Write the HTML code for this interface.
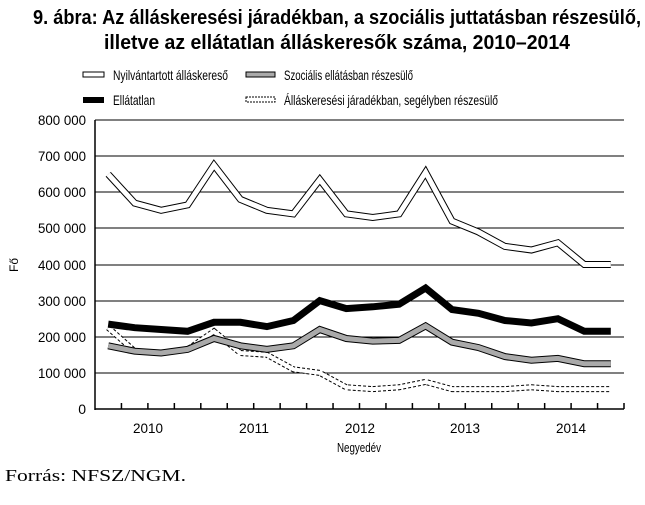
<!DOCTYPE html>
<html><head><meta charset="utf-8"><style>
html,body{margin:0;padding:0;background:#fff;}
body{width:645px;height:500px;overflow:hidden;}
text{font-family:"Liberation Sans Narrow","Liberation Sans",sans-serif;}
</style></head><body>
<svg width="645" height="500" xmlns="http://www.w3.org/2000/svg">
<text x="337" y="24" text-anchor="middle" font-size="20" font-weight="bold" textLength="608" lengthAdjust="spacingAndGlyphs">9. ábra: Az álláskeresési járadékban, a szociális juttatásban részesülő,</text>
<text x="337" y="49" text-anchor="middle" font-size="20" font-weight="bold" textLength="466" lengthAdjust="spacingAndGlyphs">illetve az ellátatlan álláskeresők száma, 2010–2014</text>
<!-- legend -->
<rect x="83" y="72" width="21" height="5" fill="#fff" stroke="#000" stroke-width="1"/>
<text x="113" y="80" font-size="14" textLength="115" lengthAdjust="spacingAndGlyphs">Nyilvántartott álláskereső</text>
<rect x="246" y="72" width="29" height="5" fill="#aaa" stroke="#000" stroke-width="1"/>
<text x="284" y="80" font-size="14" textLength="129" lengthAdjust="spacingAndGlyphs">Szociális ellátásban részesülő</text>
<rect x="83" y="97" width="21" height="6" fill="#000"/>
<text x="113" y="105" font-size="14" textLength="42" lengthAdjust="spacingAndGlyphs">Ellátatlan</text>
<rect x="246" y="97" width="29" height="5" fill="#fff" stroke="#000" stroke-width="1" stroke-dasharray="2,1"/>
<text x="284" y="105" font-size="14" textLength="214" lengthAdjust="spacingAndGlyphs">Álláskeresési járadékban, segélyben részesülő</text>
<!-- grid -->
<g stroke="#000" stroke-width="1">
<line x1="95" x2="624" y1="120" y2="120"/><line x1="95" x2="624" y1="156" y2="156"/>
<line x1="95" x2="624" y1="192" y2="192"/><line x1="95" x2="624" y1="228" y2="228"/>
<line x1="95" x2="624" y1="265" y2="265"/><line x1="95" x2="624" y1="301" y2="301"/>
<line x1="95" x2="624" y1="337" y2="337"/><line x1="95" x2="624" y1="373" y2="373"/>
<line x1="95" x2="95" y1="120" y2="410" stroke-width="1.5"/>
<line x1="95" x2="624" y1="409" y2="409" stroke-width="1.5"/>
</g>
<g id="ticks" stroke="#000" stroke-width="1.5"></g>
<g font-size="14">
<text x="38" y="125" textLength="48" lengthAdjust="spacingAndGlyphs">800 000</text><text x="38" y="161" textLength="48" lengthAdjust="spacingAndGlyphs">700 000</text>
<text x="38" y="197" textLength="48" lengthAdjust="spacingAndGlyphs">600 000</text><text x="38" y="233" textLength="48" lengthAdjust="spacingAndGlyphs">500 000</text>
<text x="38" y="270" textLength="48" lengthAdjust="spacingAndGlyphs">400 000</text><text x="38" y="306" textLength="48" lengthAdjust="spacingAndGlyphs">300 000</text>
<text x="38" y="342" textLength="48" lengthAdjust="spacingAndGlyphs">200 000</text><text x="38" y="378" textLength="48" lengthAdjust="spacingAndGlyphs">100 000</text>
<text x="86" y="414" text-anchor="end">0</text>
</g>
<g font-size="14">
<text x="133" y="433" textLength="30" lengthAdjust="spacingAndGlyphs">2010</text><text x="239" y="433" textLength="30" lengthAdjust="spacingAndGlyphs">2011</text>
<text x="345" y="433" textLength="30" lengthAdjust="spacingAndGlyphs">2012</text><text x="450" y="433" textLength="30" lengthAdjust="spacingAndGlyphs">2013</text><text x="556" y="433" textLength="30" lengthAdjust="spacingAndGlyphs">2014</text>
<text x="337" y="452" font-size="13" textLength="44" lengthAdjust="spacingAndGlyphs">Negyedév</text>
</g>
<text x="18" y="265" font-size="12" text-anchor="middle" transform="rotate(-90 18 265)">Fő</text>
<g id="series" fill="none" stroke-linejoin="miter"></g>
<text x="5" y="481" font-size="17" textLength="181" lengthAdjust="spacingAndGlyphs" style="font-family:'Liberation Serif',serif">Forrás: NFSZ/NGM.</text>
<script>
var ns="http://www.w3.org/2000/svg";
var t=document.getElementById("ticks");
for(var i=1;i<=20;i++){var x=95+i*26.45;var l=document.createElementNS(ns,"line");l.setAttribute("x1",x);l.setAttribute("x2",x);l.setAttribute("y1",403);l.setAttribute("y2",409);t.appendChild(l);}
function pts(d){return d.map(function(v,i){return (108.2+i*26.45).toFixed(1)+","+(409-v*0.3613).toFixed(1);}).join(" ");}
var g=document.getElementById("series");
function pl(d,stroke,w,dash){var p=document.createElementNS(ns,"polyline");p.setAttribute("points",pts(d));p.setAttribute("stroke",stroke);p.setAttribute("stroke-width",w);if(dash)p.setAttribute("stroke-dasharray",dash);g.appendChild(p);}
var ny=[650,570,550,565,675,580,550,540,635,540,530,540,655,520,490,450,440,460,400,400];
var el=[235,225,220,215,240,240,228,245,300,278,283,290,335,275,265,245,238,250,215,215];
var sz=[175,160,155,165,195,175,165,175,220,195,188,190,230,185,170,145,135,140,125,125];
var aj=[225,160,155,165,215,155,150,110,100,60,55,60,75,55,55,55,60,55,55,55];
pl(aj,"#000",6,"3,2");pl(aj,"#fff",4);
pl(sz,"#000",7);pl(sz,"#aaa",5);
pl(el,"#000",7);
pl(ny,"#000",7);pl(ny,"#fff",5);
</script>
</svg>
</body></html>
